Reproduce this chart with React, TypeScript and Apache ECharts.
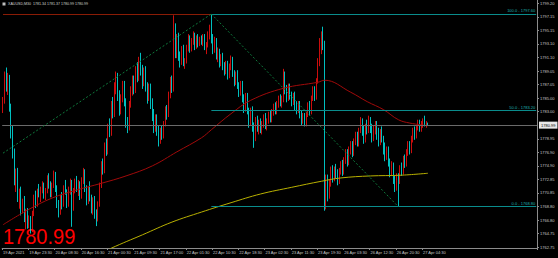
import React, { useEffect, useRef } from "react";
import * as echarts from "echarts";

// ---- data ----
const titleText = "XAUUSD,M30  1781.34 1781.37 1780.99 1780.99";

// candles: [open, close, low, high]
const segA: number[][] = [
  [1784.0,1784.8,1782.8,1785.2],[1784.8,1788.4,1784.2,1789.0],[1788.4,1786.5,1786.0,1789.6],[1786.5,1788.0,1785.5,1788.8],
  [1788.0,1783.6,1783.0,1788.5],[1783.6,1779.8,1779.0,1784.2],[1779.8,1776.8,1776.0,1781.0],[1776.8,1773.0,1772.0,1777.5],
  [1773.0,1774.0,1771.0,1774.5],[1774.0,1770.2,1769.5,1774.6],[1770.2,1771.0,1768.5,1771.5],[1771.0,1768.2,1767.5,1771.8],
  [1768.2,1769.6,1767.8,1770.0],[1769.6,1767.2,1766.5,1770.4],[1767.2,1768.0,1765.4,1768.5],[1768.0,1766.2,1765.5,1768.6],
  [1766.2,1767.0,1765.6,1767.5],[1767.0,1765.4,1764.8,1767.4],[1765.4,1767.8,1765.0,1768.2],[1767.8,1770.2,1767.4,1770.6],
  [1770.2,1769.2,1768.6,1771.2],[1769.2,1771.0,1768.8,1771.5],[1771.0,1770.6,1770.2,1772.2],[1770.6,1771.4,1769.5,1771.8],
  [1771.4,1772.0,1770.8,1772.6],[1772.0,1770.5,1770.0,1772.4],[1770.5,1771.2,1769.8,1771.6],[1771.2,1773.0,1770.8,1773.5],
  [1773.0,1772.0,1771.5,1773.8],[1772.0,1770.8,1770.2,1772.6],[1770.8,1772.0,1770.2,1772.4],[1772.0,1773.6,1771.6,1774.2],
  [1773.6,1771.4,1771.0,1774.0],[1771.4,1769.0,1768.6,1772.0],[1769.0,1768.0,1767.2,1769.8],[1768.0,1770.2,1767.6,1770.6],
  [1770.2,1769.0,1768.4,1771.0],[1769.0,1771.6,1768.8,1772.0],[1771.6,1771.0,1770.6,1772.8],[1771.0,1769.2,1768.6,1771.4],
  [1769.2,1771.4,1768.8,1771.8],[1771.4,1772.4,1770.6,1773.0],[1772.4,1768.6,1765.8,1772.8],[1768.6,1771.2,1768.2,1771.6],
  [1771.2,1772.6,1770.8,1773.0],[1772.6,1771.6,1771.0,1773.4],[1771.6,1772.2,1770.4,1772.8],[1772.2,1770.4,1769.8,1772.6],
];
const segB: number[][] = [
  [1770.4,1772.8,1770.0,1773.2],[1772.8,1774.0,1772.2,1774.6],[1774.0,1771.6,1771.0,1774.4],[1771.6,1769.6,1769.0,1772.0],
  [1769.6,1771.4,1769.2,1771.8],[1771.4,1770.0,1769.6,1772.6],[1770.0,1768.4,1767.8,1770.6],[1768.4,1769.8,1767.6,1770.2],
  [1769.8,1767.6,1767.0,1770.4],[1767.6,1767.0,1765.9,1768.4],[1767.0,1769.2,1766.6,1769.6],[1769.2,1772.0,1768.8,1772.4],
  [1772.0,1775.2,1771.6,1775.6],[1775.2,1774.2,1773.6,1776.0],[1774.2,1778.0,1773.8,1778.4],[1778.0,1777.0,1776.4,1779.0],
  [1777.0,1780.6,1776.6,1781.2],[1780.6,1779.8,1779.2,1782.0],[1779.8,1784.0,1779.4,1784.6],[1784.0,1782.6,1782.0,1785.2],
  [1782.6,1786.8,1782.2,1787.4],[1786.8,1788.2,1785.6,1789.0],[1788.2,1785.2,1784.6,1788.8],[1785.2,1783.0,1782.4,1786.2],
  [1783.0,1785.0,1782.6,1785.6],[1785.0,1787.0,1784.4,1787.6],[1787.0,1784.4,1783.8,1787.6],[1784.4,1781.4,1780.6,1785.0],
  [1781.4,1780.6,1779.8,1782.2],[1780.6,1784.0,1780.2,1784.6],[1784.0,1786.2,1783.6,1786.8],[1786.2,1787.8,1785.4,1788.4],
  [1787.8,1786.2,1785.6,1788.4],[1786.2,1789.2,1785.8,1789.8],[1789.2,1788.0,1787.4,1790.4],[1788.0,1790.6,1787.6,1791.2],
  [1790.6,1789.0,1788.4,1791.8],[1789.0,1787.2,1786.4,1790.0],[1787.2,1789.0,1786.8,1789.6],[1789.0,1786.6,1786.0,1789.8],
  [1786.6,1785.0,1784.2,1787.4],[1785.0,1786.6,1784.6,1787.2],[1786.6,1784.0,1783.4,1787.2],[1784.0,1782.2,1781.6,1785.0],
  [1782.2,1780.4,1779.8,1783.4],[1780.4,1782.0,1780.0,1782.6],[1782.0,1780.0,1779.4,1782.6],[1780.0,1778.6,1777.8,1781.0],
  [1778.6,1780.2,1778.2,1780.6],
];
const segC: number[][] = [
  [1780.2,1779.4,1778.8,1781.0],[1779.4,1781.2,1779.0,1781.6],[1781.2,1783.4,1780.8,1783.8],[1783.4,1782.6,1781.8,1784.0],
  [1782.6,1785.6,1782.2,1786.0],[1785.6,1787.6,1785.0,1788.2],[1787.6,1786.4,1785.8,1788.4],[1786.4,1795.6,1786.0,1797.4],
  [1795.6,1791.8,1791.0,1796.2],[1791.8,1794.0,1791.0,1794.6],[1794.0,1791.2,1790.6,1794.8],[1791.2,1790.4,1789.6,1792.0],
  [1790.4,1792.4,1790.0,1792.8],[1792.4,1790.2,1789.8,1793.0],[1790.2,1790.6,1789.4,1791.0],[1790.6,1792.6,1790.2,1793.0],
  [1792.6,1794.0,1792.0,1794.6],[1794.0,1792.4,1791.8,1794.4],[1792.4,1793.6,1792.0,1794.0],[1793.6,1794.4,1793.0,1795.0],
  [1794.4,1792.8,1792.2,1794.8],[1792.8,1794.0,1792.4,1794.4],[1794.0,1793.2,1792.6,1794.6],[1793.2,1793.8,1792.8,1794.2],
  [1793.8,1793.4,1793.0,1794.4],[1793.4,1794.2,1792.8,1794.6],[1794.2,1792.6,1792.2,1794.6],[1792.6,1793.0,1791.6,1793.4],
  [1793.0,1794.6,1792.6,1795.0],[1794.6,1795.6,1793.8,1796.0],[1795.6,1793.8,1793.2,1797.6],[1793.8,1792.2,1791.6,1794.6],
  [1792.2,1793.6,1791.8,1794.2],[1793.6,1791.4,1790.8,1794.0],[1791.4,1792.0,1790.4,1792.6],[1792.0,1790.2,1789.6,1792.4],
  [1790.2,1791.2,1789.8,1791.6],[1791.2,1789.6,1789.2,1791.8],[1789.6,1789.0,1788.4,1790.4],[1789.0,1790.0,1788.6,1790.6],
  [1790.0,1788.4,1787.8,1790.6],[1788.4,1789.8,1788.0,1790.2],[1789.8,1790.8,1789.2,1791.4],[1790.8,1788.6,1788.2,1791.2],
  [1788.6,1787.4,1786.8,1789.2],[1787.4,1788.6,1787.0,1789.0],[1788.6,1786.8,1786.4,1789.2],[1786.8,1785.8,1785.2,1787.4],
];
const segD: number[][] = [
  [1785.8,1787.0,1785.4,1787.6],[1787.0,1785.0,1784.4,1787.6],[1785.0,1783.4,1782.8,1785.6],[1783.4,1785.2,1783.0,1785.8],
  [1785.2,1783.0,1782.6,1785.8],[1783.0,1781.4,1780.6,1783.6],[1781.4,1783.2,1781.0,1783.6],[1783.2,1780.6,1780.0,1783.8],
  [1780.6,1779.0,1777.6,1781.4],[1779.0,1781.8,1778.6,1782.2],[1781.8,1780.4,1780.0,1782.4],[1780.4,1781.4,1779.6,1781.8],
  [1781.4,1780.2,1779.8,1782.0],[1780.2,1781.0,1779.6,1781.6],[1781.0,1782.2,1780.6,1782.6],[1782.2,1780.8,1780.4,1782.8],
  [1780.8,1781.6,1780.2,1782.0],[1781.6,1782.6,1781.2,1783.0],[1782.6,1781.8,1781.4,1783.2],[1781.8,1783.0,1781.4,1783.4],
  [1783.0,1783.8,1782.4,1784.2],[1783.8,1783.0,1782.6,1784.4],[1783.0,1784.2,1782.6,1784.6],[1784.2,1785.0,1783.6,1785.4],
  [1785.0,1784.2,1783.8,1785.6],[1784.2,1784.8,1783.6,1785.4],[1784.8,1788.4,1784.4,1789.4],[1788.4,1786.2,1785.6,1789.0],
  [1786.2,1785.0,1784.4,1787.0],[1785.0,1786.6,1784.6,1787.2],[1786.6,1785.4,1784.8,1787.2],[1785.4,1784.4,1783.8,1786.0],
  [1784.4,1785.4,1784.0,1785.8],[1785.4,1783.8,1783.2,1786.0],[1783.8,1783.2,1782.6,1784.6],[1783.2,1784.0,1782.8,1784.6],
  [1784.0,1782.6,1782.0,1784.6],[1782.6,1781.6,1781.0,1783.2],[1781.6,1782.4,1781.2,1782.8],[1782.4,1781.2,1780.8,1782.8],
  [1781.2,1782.6,1780.8,1783.0],[1782.6,1784.0,1782.2,1784.4],[1784.0,1783.0,1782.4,1784.6],[1783.0,1785.0,1782.6,1785.4],
  [1785.0,1786.2,1784.6,1786.8],[1786.2,1785.2,1784.6,1786.8],[1785.2,1787.6,1784.8,1788.0],[1787.6,1790.4,1787.2,1791.0],
  [1790.4,1793.4,1789.8,1794.0],[1793.4,1794.4,1791.6,1795.0],[1794.4,1793.0,1792.2,1795.7],[1793.0,1771.0,1768.2,1793.6],
];
const segE: number[][] = [
  [1771.0,1772.8,1768.4,1773.6],[1772.8,1770.4,1769.6,1773.6],[1770.4,1772.2,1770.0,1772.8],[1772.2,1774.2,1771.8,1774.8],
  [1774.2,1773.0,1772.4,1775.0],[1773.0,1774.4,1772.6,1774.8],[1774.4,1773.6,1773.0,1775.2],[1773.6,1772.6,1772.0,1774.4],
  [1772.6,1774.0,1772.2,1774.6],[1774.0,1775.2,1773.6,1775.6],[1775.2,1774.0,1773.4,1775.8],[1774.0,1775.8,1773.6,1776.2],
  [1775.8,1776.8,1775.2,1777.4],[1776.8,1775.4,1774.8,1777.4],[1775.4,1777.4,1775.0,1777.8],[1777.4,1778.0,1776.6,1778.6],
  [1778.0,1776.8,1776.2,1778.6],[1776.8,1778.6,1776.4,1779.0],[1778.6,1779.4,1778.0,1780.0],[1779.4,1778.2,1777.8,1780.0],
  [1778.2,1780.2,1777.8,1780.6],[1780.2,1781.6,1779.8,1782.2],[1781.6,1780.0,1779.4,1782.0],[1780.0,1778.8,1778.2,1781.0],
  [1778.8,1780.8,1778.4,1781.2],[1780.8,1780.2,1779.6,1781.8],[1780.2,1781.8,1779.8,1782.4],[1781.8,1780.4,1779.8,1782.2],
  [1780.4,1779.0,1778.4,1781.2],[1779.0,1780.6,1778.6,1781.0],[1780.6,1781.2,1779.6,1781.6],[1781.2,1779.4,1778.8,1781.6],
  [1779.4,1778.4,1777.8,1780.6],[1778.4,1779.8,1778.0,1780.4],[1779.8,1778.8,1778.4,1780.8],[1778.8,1777.2,1776.6,1779.4],
  [1777.2,1776.2,1775.6,1778.4],[1776.2,1777.4,1775.8,1777.8],[1777.4,1775.4,1774.8,1777.8],[1775.4,1773.8,1773.2,1776.0],
  [1773.8,1775.0,1773.4,1775.6],[1775.0,1772.8,1772.2,1775.4],[1772.8,1771.6,1771.0,1773.4],[1771.6,1773.2,1771.2,1773.8],
  [1773.2,1772.6,1768.8,1773.8],[1772.6,1774.6,1772.2,1775.0],[1774.6,1774.0,1773.4,1775.4],[1774.0,1776.0,1773.6,1776.4],
  [1776.0,1775.2,1774.6,1776.6],[1775.2,1777.0,1774.8,1777.4],[1777.0,1778.0,1776.4,1778.6],[1778.0,1777.2,1776.6,1778.6],
  [1777.2,1779.0,1776.8,1779.4],[1779.0,1780.2,1778.4,1780.6],[1780.2,1779.4,1778.8,1780.8],[1779.4,1780.6,1779.0,1781.0],
  [1780.6,1781.4,1780.2,1781.8],[1781.4,1780.4,1780.0,1781.8],[1780.4,1781.2,1780.0,1781.6],[1781.2,1781.6,1780.6,1782.0],
  [1781.6,1781.0,1780.8,1782.4],[1781.0,1781.34,1780.6,1781.6],[1781.34,1780.99,1780.99,1781.37],
];

// moving averages (bar index, value)
const redMaIdx = [0, 15, 30, 45, 60, 75, 91, 106, 121, 127, 139, 151, 171, 192, 196, 212, 222, 232, 241, 248, 259];
const redMaVal = [1766.1, 1768.3, 1770.1, 1771.3, 1772.3, 1773.4, 1774.9, 1777.0, 1779.1, 1780.3, 1782.7, 1784.7, 1786.5, 1787.4, 1787.7, 1785.9, 1784.5, 1783.3, 1781.8, 1781.3, 1780.9];
const yellowMaIdx = [60, 66, 85, 103, 121, 139, 157, 176, 194, 206, 224, 242, 259];
const yellowMaVal = [1761.8, 1762.6, 1764.6, 1766.5, 1768.0, 1769.4, 1770.7, 1771.7, 1772.6, 1773.1, 1773.4, 1773.5, 1773.8];

// fibonacci & trend lines
const fibHigh = 1797.60;
const fibLow = 1768.80;
const fibHighIdx = 127;
const fibLowIdx = 241;
const fibLevels = [100, 50, 0];
const trendStartIdx = 0;
const trendStartVal = 1776.8;

// axis ticks
const xTickLabels = [
  "19 Apr 2021", "19 Apr 23:30", "20 Apr 08:30", "20 Apr 16:30", "21 Apr 00:30", "21 Apr 09:30",
  "21 Apr 17:00", "22 Apr 01:30", "22 Apr 10:30", "22 Apr 18:30", "23 Apr 02:30", "23 Apr 11:30",
  "23 Apr 19:30", "26 Apr 03:30", "26 Apr 12:30", "26 Apr 20:30", "27 Apr 04:30",
];
const barsPerLabel = 16;
const yTickValues = [1799.20, 1797.175, 1795.15, 1793.125, 1791.10, 1789.075, 1787.05, 1785.025, 1783.00,
  1778.95, 1776.925, 1774.90, 1772.875, 1770.85, 1768.825, 1766.80, 1764.775, 1762.75];
const yTickLabels = ["1799.20", "1797.15", "1795.15", "1793.10", "1791.10", "1789.05", "1787.05", "1785.00", "1783.00",
  "1778.95", "1776.90", "1774.90", "1772.85", "1770.85", "1768.80", "1766.80", "1764.75", "1762.75"];
const yMin = 1762.63;
const yMax = 1799.69;
const slotCount = 326;

const FONT = "'Liberation Sans', Arial, sans-serif";

export default function App() {
  const ref = useRef<HTMLDivElement>(null);
  useEffect(() => {
    if (!ref.current) return;
    const chart = echarts.init(ref.current, undefined, { renderer: "svg" });
    const candles = [...segA, ...segB, ...segC, ...segD, ...segE];
    const lastClose = candles[candles.length - 1][1];
    const categories = Array.from({ length: slotCount }, (_, i) => String(i));
    const showIdx = (i: number) => i % barsPerLabel === 0 && i / barsPerLabel < xTickLabels.length;
    const teal = "#0a8c8c";

    const fibLines: any[] = fibLevels.map((lv) => {
      const price = fibLow + ((fibHigh - fibLow) * lv) / 100;
      return [
        {
          coord: [fibHighIdx, price],
          lineStyle: { color: teal, width: 1.2, type: "solid" },
          label: {
            show: true,
            position: "insideEndTop",
            distance: 1,
            formatter: `${lv.toFixed(1)} - ${price.toFixed(2)}`,
            color: "#1fb0b0",
            fontSize: 4,
            fontFamily: FONT,
          },
        },
        { coord: [slotCount - 1, price] },
      ];
    });

    const option: any = {
      animation: false,
      backgroundColor: "#000000",
      grid: { left: 0, right: 21, top: 0, bottom: 10 },
      xAxis: {
        type: "category",
        data: categories,
        boundaryGap: true,
        axisLine: { show: true, lineStyle: { color: "#8c8c8c", width: 1 } },
        axisTick: { show: true, interval: (i: number) => showIdx(i), length: 2, lineStyle: { color: "#8c8c8c" } },
        axisLabel: {
          show: true,
          interval: (i: number) => showIdx(i),
          formatter: (_v: string, i: number) => xTickLabels[i / barsPerLabel] ?? "",
          color: "#c8c8c8",
          fontSize: 4,
          fontFamily: FONT,
          align: "left",
          margin: 2,
        },
        splitLine: { show: false },
      },
      yAxis: {
        type: "value",
        position: "right",
        min: yMin,
        max: yMax,
        axisLine: { show: true, lineStyle: { color: "#8c8c8c", width: 1 } },
        axisTick: { show: true, customValues: yTickValues, length: 2, lineStyle: { color: "#8c8c8c" } },
        axisLabel: {
          show: true,
          customValues: yTickValues,
          formatter: (v: number) => {
            const k = yTickValues.findIndex((t) => Math.abs(t - v) < 0.001);
            return k >= 0 ? yTickLabels[k] : "";
          },
          color: "#c8c8c8",
          fontSize: 4,
          fontFamily: FONT,
          margin: 3,
        },
        splitLine: { show: false },
      },
      series: [
        {
          type: "candlestick",
          data: candles,
          barWidth: 0.7,
          itemStyle: {
            color: "#ff1010",
            color0: "#00f0f0",
            borderColor: "#ff1010",
            borderColor0: "#00f0f0",
            borderWidth: 0.8,
          },
          markLine: {
            silent: true,
            symbol: ["none", "none"],
            animation: false,
            data: [
              {
                yAxis: lastClose,
                lineStyle: { color: "#6a6a6a", width: 1, type: "solid" },
                label: {
                  show: true,
                  position: "end",
                  distance: 2,
                  formatter: lastClose.toFixed(2),
                  backgroundColor: "#e8e8e8",
                  color: "#000000",
                  fontSize: 4,
                  fontFamily: FONT,
                  padding: [1.5, 2],
                },
              },
              [
                { coord: [0, fibHigh], lineStyle: { color: "#8a1c06", width: 1.2, type: "solid" }, label: { show: false } },
                { coord: [fibHighIdx, fibHigh] },
              ],
              ...fibLines,
              [
                { coord: [fibHighIdx, fibHigh], lineStyle: { color: "#0e7a3c", width: 1, type: [2, 2] }, label: { show: false } },
                { coord: [fibLowIdx, fibLow] },
              ],
              [
                { coord: [trendStartIdx, trendStartVal], lineStyle: { color: "#0e7a3c", width: 1, type: [2, 2] }, label: { show: false } },
                { coord: [fibHighIdx, fibHigh] },
              ],
            ],
          },
        },
        {
          type: "line",
          data: redMaIdx.map((x, k) => [x, redMaVal[k]]),
          smooth: 0.4,
          symbol: "none",
          showSymbol: false,
          lineStyle: { color: "#a00a0a", width: 1 },
          silent: true,
        },
        {
          type: "line",
          data: yellowMaIdx.map((x, k) => [x, yellowMaVal[k]]),
          smooth: 0.4,
          symbol: "none",
          showSymbol: false,
          lineStyle: { color: "#b8b000", width: 1 },
          silent: true,
        },
      ],
      graphic: [
        { type: "rect", shape: { x: 2.5, y: 2.5, width: 3, height: 3 }, style: { fill: "#bdbdbd" } },
        {
          type: "text",
          x: 8,
          y: 4.2,
          style: { text: titleText, font: `3.6px ${FONT}`, fill: "#d0d0d0", verticalAlign: "middle" },
        },
        {
          type: "text",
          x: 3,
          y: 236.5,
          scaleX: 0.91,
          style: { text: lastClose.toFixed(2), font: `22px ${FONT}`, fill: "#ff0000", verticalAlign: "middle" },
        },
      ],
    };
    chart.setOption(option);
    return () => chart.dispose();
  }, []);
  return (
    <div
      ref={ref}
      style={{ position: "fixed", left: 0, top: 0, width: 558, height: 258, background: "#000" }}
    />
  );
}
